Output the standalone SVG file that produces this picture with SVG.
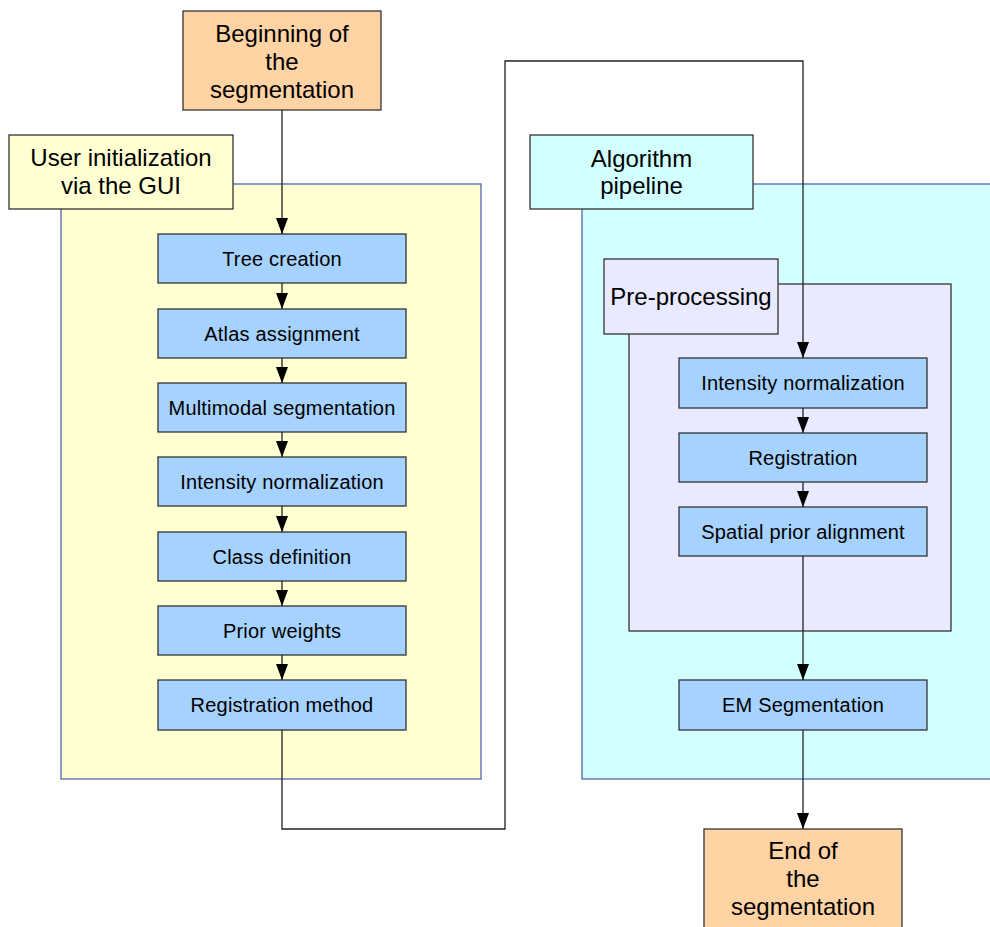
<svg xmlns="http://www.w3.org/2000/svg" width="990" height="927" viewBox="0 0 990 927">
<defs>
<marker id="ah" markerWidth="16" markerHeight="12" refX="16" refY="6" orient="auto" markerUnits="userSpaceOnUse" viewBox="0 0 16 12">
<path d="M0,0 L16,6 L0,12 Z" fill="#000"/>
</marker>
<style>
text{font-family:"Liberation Sans",Arial,sans-serif;fill:#000;text-anchor:middle}
.big{font-size:24px}
.sm{font-size:20px;letter-spacing:0.2px}
.term{fill:#ffd3a3;stroke:#333;stroke-width:1.3}
.step{fill:#a6d2ff;stroke:#333;stroke-width:1.3}
.cont{stroke:#5566b0;stroke-width:1.3}
.lab{stroke:#333;stroke-width:1.3}
.yel{fill:#ffffd2}
.cyan{fill:#d2ffff}
.lav{fill:#e9e9ff}
.conn{fill:none;stroke:#222;stroke-width:1.3}
</style>
</defs>
<rect width="990" height="927" fill="#fff"/>

<g id="user-init-group">
<rect class="cont yel" x="61" y="184" width="420" height="595"/>
<rect class="lab yel" x="9" y="135" width="224" height="74"/>
<text class="big" x="121" y="166">User initialization</text>
<text class="big" x="121" y="194">via the GUI</text>
</g>

<g id="algorithm-group">
<rect class="cont cyan" x="582" y="184" width="420" height="595"/>
<rect class="lab cyan" x="530" y="135" width="223" height="74"/>
<text class="big" x="641.5" y="167">Algorithm</text>
<text class="big" x="641.5" y="194">pipeline</text>
</g>

<g id="preprocessing-group">
<rect class="lab lav" x="629" y="284" width="322" height="347"/>
<rect class="lab lav" x="604" y="259" width="174" height="75"/>
<text class="big" x="691" y="305">Pre-processing</text>
</g>

<g id="begin">
<rect class="term" x="183" y="11" width="198" height="99"/>
<text class="big" x="282" y="41.5">Beginning of</text>
<text class="big" x="282" y="69.5">the</text>
<text class="big" x="282" y="97.5">segmentation</text>
</g>

<g id="end">
<rect class="term" x="704" y="829" width="198" height="110"/>
<text class="big" x="803" y="859">End of</text>
<text class="big" x="803" y="887">the</text>
<text class="big" x="803" y="915">segmentation</text>
</g>

<g id="tree-creation"><rect class="step" x="158" y="234" width="248" height="49"/><text class="sm" x="282" y="266">Tree creation</text></g>
<g id="atlas-assignment"><rect class="step" x="158" y="309" width="248" height="49"/><text class="sm" x="282" y="341">Atlas assignment</text></g>
<g id="multimodal-segmentation"><rect class="step" x="158" y="383" width="248" height="49"/><text class="sm" x="282" y="415">Multimodal segmentation</text></g>
<g id="intensity-normalization-1"><rect class="step" x="158" y="457" width="248" height="49"/><text class="sm" x="282" y="489">Intensity normalization</text></g>
<g id="class-definition"><rect class="step" x="158" y="532" width="248" height="49"/><text class="sm" x="282" y="564">Class definition</text></g>
<g id="prior-weights"><rect class="step" x="158" y="606" width="248" height="49"/><text class="sm" x="282" y="638">Prior weights</text></g>
<g id="registration-method"><rect class="step" x="158" y="680" width="248" height="50"/><text class="sm" x="282" y="712">Registration method</text></g>

<g id="intensity-normalization-2"><rect class="step" x="679" y="358" width="248" height="50"/><text class="sm" x="803" y="390">Intensity normalization</text></g>
<g id="registration"><rect class="step" x="679" y="433" width="248" height="49"/><text class="sm" x="803" y="465">Registration</text></g>
<g id="spatial-prior-alignment"><rect class="step" x="679" y="507" width="248" height="49"/><text class="sm" x="803" y="539">Spatial prior alignment</text></g>
<g id="em-segmentation"><rect class="step" x="679" y="680" width="248" height="50"/><text class="sm" x="803" y="712">EM Segmentation</text></g>

<g id="connectors">
<path class="conn" d="M282,110 V234" marker-end="url(#ah)"/>
<path class="conn" d="M282,283 V309" marker-end="url(#ah)"/>
<path class="conn" d="M282,358 V383" marker-end="url(#ah)"/>
<path class="conn" d="M282,432 V457" marker-end="url(#ah)"/>
<path class="conn" d="M282,506 V532" marker-end="url(#ah)"/>
<path class="conn" d="M282,581 V606" marker-end="url(#ah)"/>
<path class="conn" d="M282,655 V680" marker-end="url(#ah)"/>
<path class="conn" d="M282,730 V829 H505 V61 H803 V358" marker-end="url(#ah)"/>
<path class="conn" d="M803,408 V433" marker-end="url(#ah)"/>
<path class="conn" d="M803,482 V507" marker-end="url(#ah)"/>
<path class="conn" d="M803,556 V680" marker-end="url(#ah)"/>
<path class="conn" d="M803,730 V829" marker-end="url(#ah)"/>
</g>
</svg>
